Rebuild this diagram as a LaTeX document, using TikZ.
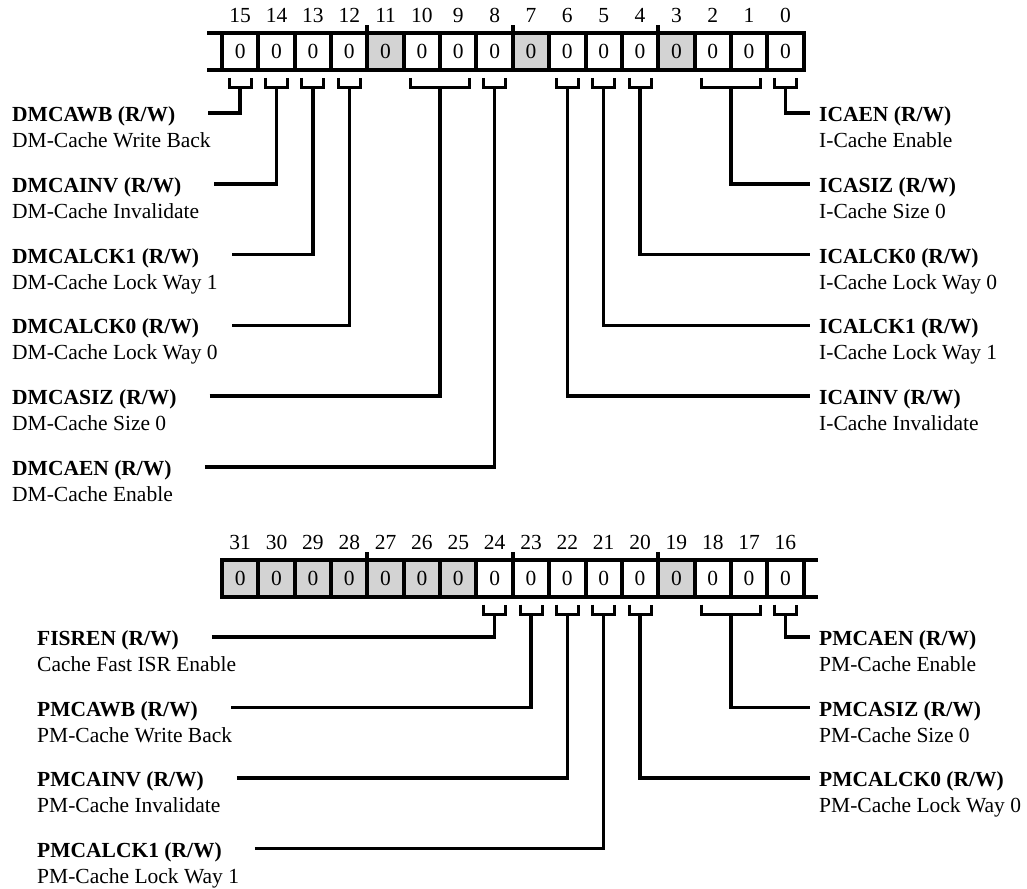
\documentclass[tikz,border=0pt]{standalone}
\usepackage{fontspec}
\setmainfont{Liberation Serif}
\usepackage{tikz}
\usetikzlibrary{positioning}
\definecolor{rsvgray}{RGB}{211,211,211}

\begin{document}
\begin{tikzpicture}[
          x=1pt, y=-1pt,
          every node/.style={font=\fontsize{21.5}{26}\selectfont},
          every label/.style={inner sep=0pt, yshift=10pt},
          cell/.style={draw, line width=4pt, minimum width=36.35pt, minimum height=37pt, inner sep=0pt, outer sep=0pt, fill=white},
          rsv/.style={cell, fill=rsvgray},
          reg/.style={line width=4pt},
          brk/.style={line width=3pt},
          lead/.style={line width=3.5pt},
          fld/.style={anchor=base west, inner sep=0pt, text height=17pt, text depth=0pt, font=\fontsize{21.5}{26}\selectfont\bfseries},
          dsc/.style={anchor=base west, inner sep=0pt}
      ]
        \useasboundingbox (0,0) rectangle (1027,888);

        % register bits 15..0
        \node[cell, label=above:15] (c15) at (240.2,51.5) {0};
        \node[cell, label=above:14, right=0pt of c15] (c14) {0};
        \node[cell, label=above:13, right=0pt of c14] (c13) {0};
        \node[cell, label=above:12, right=0pt of c13] (c12) {0};
        \node[rsv, label=above:11, right=0pt of c12] (c11) {0};
        \node[cell, label=above:10, right=0pt of c11] (c10) {0};
        \node[cell, label=above:9, right=0pt of c10] (c9) {0};
        \node[cell, label=above:8, right=0pt of c9] (c8) {0};
        \node[rsv, label=above:7, right=0pt of c8] (c7) {0};
        \node[cell, label=above:6, right=0pt of c7] (c6) {0};
        \node[cell, label=above:5, right=0pt of c6] (c5) {0};
        \node[cell, label=above:4, right=0pt of c5] (c4) {0};
        \node[rsv, label=above:3, right=0pt of c4] (c3) {0};
        \node[cell, label=above:2, right=0pt of c3] (c2) {0};
        \node[cell, label=above:1, right=0pt of c2] (c1) {0};
        \node[cell, label=above:0, right=0pt of c1] (c0) {0};
        \draw[reg] ([xshift=-15pt]c15.north west) -- (c0.north east);
        \draw[reg] ([xshift=-15pt]c15.south west) -- (c0.south east);
        \draw[reg] (c12.north east) -- ++(0,-8);
        \draw[reg] (c8.north east) -- ++(0,-8);
        \draw[reg] (c4.north east) -- ++(0,-8);

        % register bits 31..16
        \node[rsv, label=above:31] (c31) at (240.2,578) {0};
        \node[rsv, label=above:30, right=0pt of c31] (c30) {0};
        \node[rsv, label=above:29, right=0pt of c30] (c29) {0};
        \node[rsv, label=above:28, right=0pt of c29] (c28) {0};
        \node[rsv, label=above:27, right=0pt of c28] (c27) {0};
        \node[rsv, label=above:26, right=0pt of c27] (c26) {0};
        \node[rsv, label=above:25, right=0pt of c26] (c25) {0};
        \node[cell, label=above:24, right=0pt of c25] (c24) {0};
        \node[cell, label=above:23, right=0pt of c24] (c23) {0};
        \node[cell, label=above:22, right=0pt of c23] (c22) {0};
        \node[cell, label=above:21, right=0pt of c22] (c21) {0};
        \node[cell, label=above:20, right=0pt of c21] (c20) {0};
        \node[rsv, label=above:19, right=0pt of c20] (c19) {0};
        \node[cell, label=above:18, right=0pt of c19] (c18) {0};
        \node[cell, label=above:17, right=0pt of c18] (c17) {0};
        \node[cell, label=above:16, right=0pt of c17] (c16) {0};
        \draw[reg] (c31.north west) -- ([xshift=14pt]c16.north east);
        \draw[reg] (c31.south west) -- ([xshift=14pt]c16.south east);
        \draw[reg] (c28.north east) -- ++(0,-8);
        \draw[reg] (c24.north east) -- ++(0,-8);
        \draw[reg] (c20.north east) -- ++(0,-8);

        % brackets
        \draw[brk] ([shift={(-11,8)}]c15.south) |- ([shift={(11,18)}]c15.south) coordinate[pos=.75] (b15) -- ++(0,-10);
        \draw[brk] ([shift={(-11,8)}]c14.south) |- ([shift={(11,18)}]c14.south) coordinate[pos=.75] (b14) -- ++(0,-10);
        \draw[brk] ([shift={(-11,8)}]c13.south) |- ([shift={(11,18)}]c13.south) coordinate[pos=.75] (b13) -- ++(0,-10);
        \draw[brk] ([shift={(-11,8)}]c12.south) |- ([shift={(11,18)}]c12.south) coordinate[pos=.75] (b12) -- ++(0,-10);
        \draw[brk] ([shift={(-11,8)}]c10.south) |- ([shift={(11,18)}]c9.south) coordinate[pos=.75] (b10to9) -- ++(0,-10);
        \draw[brk] ([shift={(-11,8)}]c8.south) |- ([shift={(11,18)}]c8.south) coordinate[pos=.75] (b8) -- ++(0,-10);
        \draw[brk] ([shift={(-11,8)}]c6.south) |- ([shift={(11,18)}]c6.south) coordinate[pos=.75] (b6) -- ++(0,-10);
        \draw[brk] ([shift={(-11,8)}]c5.south) |- ([shift={(11,18)}]c5.south) coordinate[pos=.75] (b5) -- ++(0,-10);
        \draw[brk] ([shift={(-11,8)}]c4.south) |- ([shift={(11,18)}]c4.south) coordinate[pos=.75] (b4) -- ++(0,-10);
        \draw[brk] ([shift={(-11,8)}]c2.south) |- ([shift={(11,18)}]c1.south) coordinate[pos=.75] (b2to1) -- ++(0,-10);
        \draw[brk] ([shift={(-11,8)}]c0.south) |- ([shift={(11,18)}]c0.south) coordinate[pos=.75] (b0) -- ++(0,-10);

        \draw[brk] ([shift={(-11,8)}]c24.south) |- ([shift={(11,18)}]c24.south) coordinate[pos=.75] (b24) -- ++(0,-10);
        \draw[brk] ([shift={(-11,8)}]c23.south) |- ([shift={(11,18)}]c23.south) coordinate[pos=.75] (b23) -- ++(0,-10);
        \draw[brk] ([shift={(-11,8)}]c22.south) |- ([shift={(11,18)}]c22.south) coordinate[pos=.75] (b22) -- ++(0,-10);
        \draw[brk] ([shift={(-11,8)}]c21.south) |- ([shift={(11,18)}]c21.south) coordinate[pos=.75] (b21) -- ++(0,-10);
        \draw[brk] ([shift={(-11,8)}]c20.south) |- ([shift={(11,18)}]c20.south) coordinate[pos=.75] (b20) -- ++(0,-10);
        \draw[brk] ([shift={(-11,8)}]c18.south) |- ([shift={(11,18)}]c17.south) coordinate[pos=.75] (b18to17) -- ++(0,-10);
        \draw[brk] ([shift={(-11,8)}]c16.south) |- ([shift={(11,18)}]c16.south) coordinate[pos=.75] (b16) -- ++(0,-10);

        % fields of bits 15..0
        \node[fld] (dmcawb) at (12,121.5) {DMCAWB (R/W)};
        \node[dsc] (dmcawb-d) at ([yshift=-26pt]dmcawb.base west) {DM-Cache Write Back};
        \node[fld] (dmcainv) at (12,192.3) {DMCAINV (R/W)};
        \node[dsc] (dmcainv-d) at ([yshift=-26pt]dmcainv.base west) {DM-Cache Invalidate};
        \node[fld] (dmcalck1) at (12,263.1) {DMCALCK1 (R/W)};
        \node[dsc] (dmcalck1-d) at ([yshift=-26pt]dmcalck1.base west) {DM-Cache Lock Way 1};
        \node[fld] (dmcalck0) at (12,333.9) {DMCALCK0 (R/W)};
        \node[dsc] (dmcalck0-d) at ([yshift=-26pt]dmcalck0.base west) {DM-Cache Lock Way 0};
        \node[fld] (dmcasiz) at (12,404.7) {DMCASIZ (R/W)};
        \node[dsc] (dmcasiz-d) at ([yshift=-26pt]dmcasiz.base west) {DM-Cache Size 0};
        \node[fld] (dmcaen) at (12,475.5) {DMCAEN (R/W)};
        \node[dsc] (dmcaen-d) at ([yshift=-26pt]dmcaen.base west) {DM-Cache Enable};

        \node[fld] (icaen) at (819,121.5) {ICAEN (R/W)};
        \node[dsc] (icaen-d) at ([yshift=-26pt]icaen.base west) {I-Cache Enable};
        \node[fld] (icasiz) at (819,192.3) {ICASIZ (R/W)};
        \node[dsc] (icasiz-d) at ([yshift=-26pt]icasiz.base west) {I-Cache Size 0};
        \node[fld] (icalck0) at (819,263.1) {ICALCK0 (R/W)};
        \node[dsc] (icalck0-d) at ([yshift=-26pt]icalck0.base west) {I-Cache Lock Way 0};
        \node[fld] (icalck1) at (819,333.9) {ICALCK1 (R/W)};
        \node[dsc] (icalck1-d) at ([yshift=-26pt]icalck1.base west) {I-Cache Lock Way 1};
        \node[fld] (icainv) at (819,404.7) {ICAINV (R/W)};
        \node[dsc] (icainv-d) at ([yshift=-26pt]icainv.base west) {I-Cache Invalidate};

        \draw[lead] ([xshift=33pt]dmcawb.east) -| (b15);
        \draw[lead] ([xshift=33pt]dmcainv.east) -| (b14);
        \draw[lead] ([xshift=33pt]dmcalck1.east) -| (b13);
        \draw[lead] ([xshift=33pt]dmcalck0.east) -| (b12);
        \draw[lead] ([xshift=33pt]dmcasiz.east) -| (b10to9);
        \draw[lead] ([xshift=33pt]dmcaen.east) -| (b8);
        \draw[lead] (b0) |- ([xshift=-9pt]icaen.west);
        \draw[lead] (b2to1) |- ([xshift=-9pt]icasiz.west);
        \draw[lead] (b4) |- ([xshift=-9pt]icalck0.west);
        \draw[lead] (b5) |- ([xshift=-9pt]icalck1.west);
        \draw[lead] (b6) |- ([xshift=-9pt]icainv.west);

        % fields of bits 31..16
        \node[fld] (fisren) at (37,645.5) {FISREN (R/W)};
        \node[dsc] (fisren-d) at ([yshift=-26pt]fisren.base west) {Cache Fast ISR Enable};
        \node[fld] (pmcawb) at (37,716) {PMCAWB (R/W)};
        \node[dsc] (pmcawb-d) at ([yshift=-26pt]pmcawb.base west) {PM-Cache Write Back};
        \node[fld] (pmcainv) at (37,786.5) {PMCAINV (R/W)};
        \node[dsc] (pmcainv-d) at ([yshift=-26pt]pmcainv.base west) {PM-Cache Invalidate};
        \node[fld] (pmcalck1) at (37,857) {PMCALCK1 (R/W)};
        \node[dsc] (pmcalck1-d) at ([yshift=-26pt]pmcalck1.base west) {PM-Cache Lock Way 1};

        \node[fld] (pmcaen) at (819,645.5) {PMCAEN (R/W)};
        \node[dsc] (pmcaen-d) at ([yshift=-26pt]pmcaen.base west) {PM-Cache Enable};
        \node[fld] (pmcasiz) at (819,716) {PMCASIZ (R/W)};
        \node[dsc] (pmcasiz-d) at ([yshift=-26pt]pmcasiz.base west) {PM-Cache Size 0};
        \node[fld] (pmcalck0) at (819,786.5) {PMCALCK0 (R/W)};
        \node[dsc] (pmcalck0-d) at ([yshift=-26pt]pmcalck0.base west) {PM-Cache Lock Way 0};

        \draw[lead] ([xshift=33pt]fisren.east) -| (b24);
        \draw[lead] ([xshift=33pt]pmcawb.east) -| (b23);
        \draw[lead] ([xshift=33pt]pmcainv.east) -| (b22);
        \draw[lead] ([xshift=33pt]pmcalck1.east) -| (b21);
        \draw[lead] (b16) |- ([xshift=-9pt]pmcaen.west);
        \draw[lead] (b18to17) |- ([xshift=-9pt]pmcasiz.west);
        \draw[lead] (b20) |- ([xshift=-9pt]pmcalck0.west);
      \end{tikzpicture}
\end{document}
